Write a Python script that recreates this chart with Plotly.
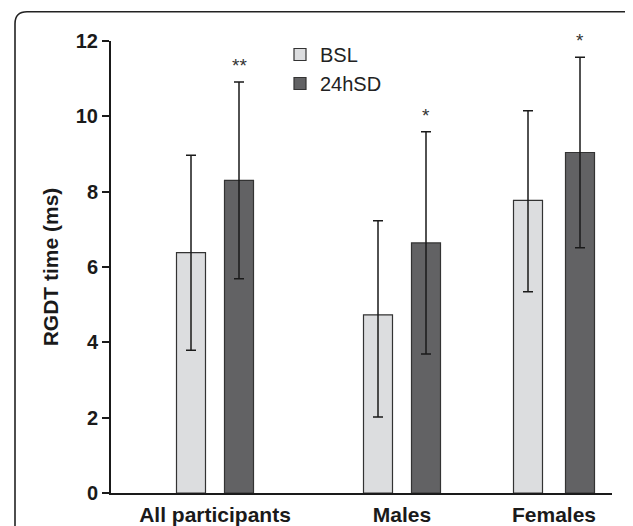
import plotly.graph_objects as go

# ---- data ----
groups = ["All participants", "Males", "Females"]
bsl_mean = [6.38, 4.73, 7.77]
bsl_err_up = [2.59, 2.50, 2.38]
bsl_err_down = [2.59, 2.71, 2.43]
sd_mean = [8.30, 6.64, 9.04]
sd_err_up = [2.61, 2.95, 2.53]
sd_err_down = [2.61, 2.95, 2.53]
sig_marks = ["**", "*", "*"]
y_ticks = [0, 2, 4, 6, 8, 10, 12]

# ---- layout constants ----
W, H = 633, 526
OFF = 8  # page body margin: figure is drawn 8px right/down in the window
# plot area in window pixels
PX_L, PX_R, PX_T, PX_B = 111, 612, 41, 493
ML, MT = PX_L - OFF, PX_T - OFF
MR, MB = W - (PX_R - OFF), H - (PX_B - OFF)
PW = PX_R - PX_L
PH = PX_B - PX_T
group_x = [104, 291, 443]      # group centres along x (px units of x-axis)
half_sep = [24, 24, 26]        # half distance between the two bars of a group
bar_w = 29

x_bsl = [g - h for g, h in zip(group_x, half_sep)]
x_sd = [g + h for g, h in zip(group_x, half_sep)]

FONT = "Liberation Sans, Arial, sans-serif"
INK = "#1a1a1a"


def px2paper(px, py):
    """window pixel -> paper coordinates"""
    return (px - PX_L) / PW, (PX_B - py) / PH


fig = go.Figure()
fig.add_trace(go.Bar(
    name="BSL", x=x_bsl, y=bsl_mean, width=bar_w,
    marker=dict(color="#dcdddf", line=dict(color="#333333", width=1.2)),
    error_y=dict(type="data", symmetric=False, array=bsl_err_up, arrayminus=bsl_err_down,
                 color=INK, thickness=1.5, width=5),
))
fig.add_trace(go.Bar(
    name="24hSD", x=x_sd, y=sd_mean, width=bar_w,
    marker=dict(color="#626264", line=dict(color="#333333", width=1.2)),
    error_y=dict(type="data", symmetric=False, array=sd_err_up, arrayminus=sd_err_down,
                 color=INK, thickness=1.5, width=5),
))

# significance marks above the 24hSD error bars
for xv, m, e, s in zip(x_sd, sd_mean, sd_err_up, sig_marks):
    fig.add_annotation(x=xv, y=m + e, text=s, showarrow=False,
                       xanchor="center", yanchor="bottom", yshift=4,
                       font=dict(family=FONT, size=19, color="#333333"))

# rounded frame around the figure (cut by the window at right and bottom)
L, T, R, B, r = 15, 11.7, 637, 545, 12
pts = {
    "a": px2paper(L, B), "b": px2paper(L, T + r), "c": px2paper(L, T),
    "d": px2paper(L + r, T), "e": px2paper(R - r, T), "f": px2paper(R, T),
    "g": px2paper(R, T + r), "h": px2paper(R, B),
}
path = ("M{a[0]},{a[1]} L{b[0]},{b[1]} Q{c[0]},{c[1]} {d[0]},{d[1]} "
        "L{e[0]},{e[1]} Q{f[0]},{f[1]} {g[0]},{g[1]} L{h[0]},{h[1]}").format(**pts)
fig.add_shape(type="path", path=path, xref="paper", yref="paper",
              line=dict(color="#222222", width=1.6), layer="below")

leg_x, leg_y = px2paper(280, 35)

fig.update_layout(
    width=W, height=H,
    margin=dict(l=ML, r=MR, t=MT, b=MB, autoexpand=False),
    paper_bgcolor="white", plot_bgcolor="white",
    barmode="overlay",
    font=dict(family=FONT, color=INK),
    showlegend=True,
    legend=dict(x=leg_x, y=leg_y, xanchor="left", yanchor="top",
                bgcolor="rgba(0,0,0,0)", borderwidth=0,
                font=dict(family=FONT, size=20, color="#222222"),
                itemwidth=30, tracegroupgap=0),
    xaxis=dict(range=[0, PW], tickvals=group_x, ticktext=groups, ticks="",
               showline=True, linecolor=INK, linewidth=2, showgrid=False, zeroline=False,
               tickfont=dict(family=FONT, size=21, weight="bold", color=INK),
               ticklabelstandoff=2, fixedrange=True),
    yaxis=dict(range=[0, 12], tickvals=y_ticks, ticks="outside", ticklen=7, tickwidth=2,
               tickcolor=INK, showline=True, linecolor=INK, linewidth=2,
               showgrid=False, zeroline=False,
               tickfont=dict(family=FONT, size=20, weight="bold", color=INK),
               ticklabelstandoff=0,
               title=dict(text="RGDT time (ms)", standoff=11,
                          font=dict(family=FONT, size=21, weight="bold", color=INK)),
               fixedrange=True),
)

fig.write_html("out.html")
